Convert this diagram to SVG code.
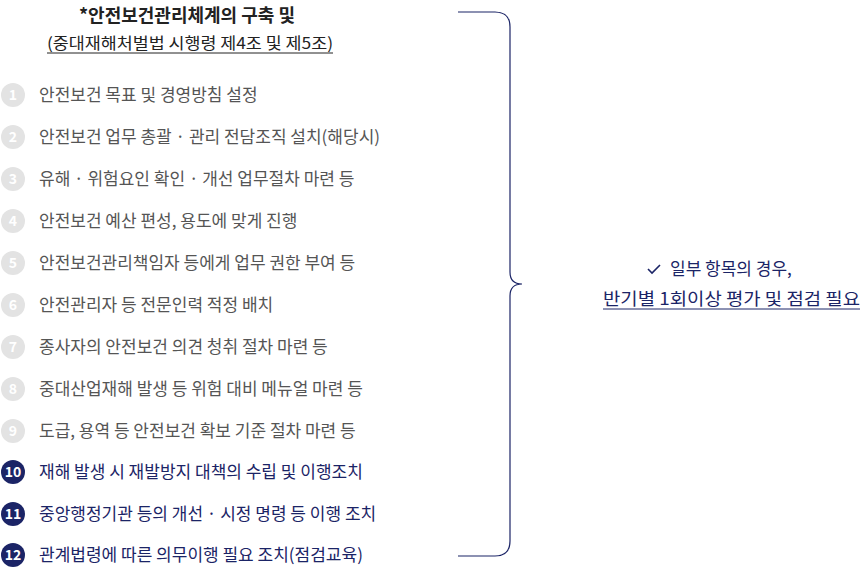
<svg xmlns="http://www.w3.org/2000/svg" width="862" height="569" viewBox="0 0 862 569">
<style>
text{font-family:"Noto Sans CJK KR","Noto Sans",sans-serif}
.t{font-size:17px;fill:#555}
.n{font-size:17px;fill:#1b2466}
.cg{fill:#e3e3e3}
.cn{fill:#1b2466}
.num{font-size:14px;fill:#fff;text-anchor:middle;font-weight:bold}
</style>
<rect width="862" height="569" fill="#fff"/>
<g id="title">
<text x="187" y="22" text-anchor="middle" font-size="18" font-weight="bold" fill="#222">*안전보건관리체계의 구축 및</text>
<text x="47" y="49" font-size="16" fill="#222" textLength="286" lengthAdjust="spacingAndGlyphs">(중대재해처벌법 시행령 제4조 및 제5조)</text>
<line x1="47" y1="53" x2="333" y2="53" stroke="#222" stroke-width="1"/>
</g>
<g id="item1"><circle class="cg" cx="13" cy="95" r="12"/><text class="num" x="13" y="100">1</text><text class="t" x="39" y="101">안전보건 목표 및 경영방침 설정</text></g>
<g id="item2"><circle class="cg" cx="13" cy="137" r="12"/><text class="num" x="13" y="142">2</text><text class="t" x="39" y="143">안전보건 업무 총괄 · 관리 전담조직 설치(해당시)</text></g>
<g id="item3"><circle class="cg" cx="13" cy="179" r="12"/><text class="num" x="13" y="184">3</text><text class="t" x="39" y="185">유해 · 위험요인 확인 · 개선 업무절차 마련 등</text></g>
<g id="item4"><circle class="cg" cx="13" cy="221" r="12"/><text class="num" x="13" y="226">4</text><text class="t" x="39" y="227">안전보건 예산 편성, 용도에 맞게 진행</text></g>
<g id="item5"><circle class="cg" cx="13" cy="263" r="12"/><text class="num" x="13" y="268">5</text><text class="t" x="39" y="269">안전보건관리책임자 등에게 업무 권한 부여 등</text></g>
<g id="item6"><circle class="cg" cx="13" cy="305" r="12"/><text class="num" x="13" y="310">6</text><text class="t" x="39" y="311">안전관리자 등 전문인력 적정 배치</text></g>
<g id="item7"><circle class="cg" cx="13" cy="347" r="12"/><text class="num" x="13" y="352">7</text><text class="t" x="39" y="353">종사자의 안전보건 의견 청취 절차 마련 등</text></g>
<g id="item8"><circle class="cg" cx="13" cy="389" r="12"/><text class="num" x="13" y="394">8</text><text class="t" x="39" y="395">중대산업재해 발생 등 위험 대비 메뉴얼 마련 등</text></g>
<g id="item9"><circle class="cg" cx="13" cy="431" r="12"/><text class="num" x="13" y="436">9</text><text class="t" x="39" y="437">도급, 용역 등 안전보건 확보 기준 절차 마련 등</text></g>
<g id="item10"><circle class="cn" cx="13" cy="472" r="12"/><text class="num" x="13" y="477">10</text><text class="n" x="39" y="478">재해 발생 시 재발방지 대책의 수립 및 이행조치</text></g>
<g id="item11"><circle class="cn" cx="13" cy="514" r="12"/><text class="num" x="13" y="519">11</text><text class="n" x="39" y="520">중앙행정기관 등의 개선 · 시정 명령 등 이행 조치</text></g>
<g id="item12"><circle class="cn" cx="13" cy="555" r="12"/><text class="num" x="13" y="560">12</text><text class="n" x="39" y="561">관계법령에 따른 의무이행 필요 조치(점검교육)</text></g>
<g id="connectors">
<path d="M458,12 H495 Q510,12 510,27 V272 Q510,284 522,284 Q510,284 510,296 V541 Q510,556 495,556 H458" fill="none" stroke="#1b2466" stroke-width="1.2"/>
</g>
<g id="note">
<path d="M648,269 l4,4 l8,-8" fill="none" stroke="#1b2466" stroke-width="1.6"/>
<text class="n" x="670" y="275">일부 항목의 경우,</text>
<text class="n" x="603" y="305" textLength="257" lengthAdjust="spacingAndGlyphs">반기별 1회이상 평가 및 점검 필요</text>
<line x1="603" y1="309" x2="860" y2="309" stroke="#1b2466" stroke-width="1"/>
</g>
</svg>
